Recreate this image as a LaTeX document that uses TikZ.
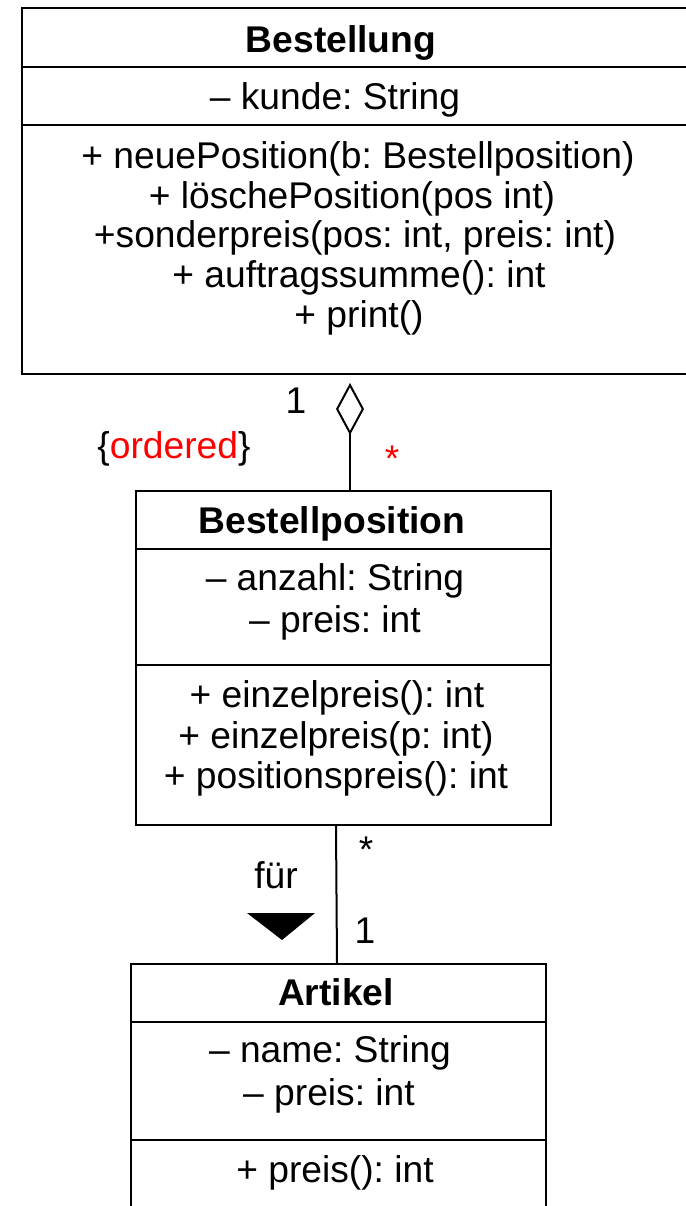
\documentclass[tikz,border=0pt]{standalone}
\usepackage{fontspec}
\setmainfont{Liberation Sans}
\usepackage{tikz}
\usetikzlibrary{arrows.meta}
\frenchspacing

\begin{document}
\begin{tikzpicture}[x=0.5pt,y=-0.5pt,
  klasse/.style={draw,line width=1pt,inner sep=0pt},
  trenner/.style={line width=1pt},
  zeile/.style={anchor=base,inner sep=0pt,font=\fontsize{18.6}{22}\selectfont},
  titel/.style={zeile,font=\fontsize{18.6}{22}\selectfont\bfseries},
  aggr/.style={line width=1pt,-{Diamond[open,length=26pt,width=14pt]}}]
\useasboundingbox (0,0) rectangle (686,1206);
\clip (0,0) rectangle (686,1206);

% Bestellung
\node[klasse,minimum width=339pt,minimum height=183pt] (bestellung) at (361,191) {};
\draw[trenner] (bestellung.west |- 0,67) -- (bestellung.east |- 0,67);
\draw[trenner] (bestellung.west |- 0,125) -- (bestellung.east |- 0,125);
\node[titel] (bestTitel) at (341,52) {Bestellung};
\node[zeile] (bestKunde) at (335,109) {– kunde: String};
\node[zeile] (bestM1) at (358,168) {+ neuePosition(b: Bestellposition)};
\node[zeile] (bestM2) at (352,208) {+ löschePosition(pos int)};
\node[zeile] (bestM3) at (355,247) {+sonderpreis(pos: int, preis: int)};
\node[zeile] (bestM4) at (359,287) {+ auftragssumme(): int};
\node[zeile] (bestM5) at (359,327) {+ print()};

% Bestellposition
\node[klasse,minimum width=207.5pt,minimum height=167pt] (bestposition) at (343.5,658) {};
\draw[trenner] (bestposition.west |- 0,549) -- (bestposition.east |- 0,549);
\draw[trenner] (bestposition.west |- 0,665) -- (bestposition.east |- 0,665);
\node[titel] (posTitel) at (332,533) {Bestellposition};
\node[zeile] (posAnzahl) at (335,590) {– anzahl: String};
\node[zeile] (posPreis) at (335,632) {– preis: int};
\node[zeile] (posM1) at (337,707) {+ einzelpreis(): int};
\node[zeile] (posM2) at (336,748) {+ einzelpreis(p: int)};
\node[zeile] (posM3) at (336,788) {+ positionspreis(): int};

% Artikel
\node[klasse,minimum width=207.5pt,minimum height=150pt] (artikel) at (338.5,1114) {};
\draw[trenner] (artikel.west |- 0,1022) -- (artikel.east |- 0,1022);
\draw[trenner] (artikel.west |- 0,1140) -- (artikel.east |- 0,1140);
\node[titel] (artTitel) at (336,1005) {Artikel};
\node[zeile] (artName) at (330,1062) {– name: String};
\node[zeile] (artPreis) at (329,1105) {– preis: int};
\node[zeile] (artM1) at (335,1182) {+ preis(): int};

% Aggregation
\coordinate (aggX) at (350,0);
\draw[aggr,shorten >=4pt] (bestposition.north -| aggX) -- (bestellung.south -| aggX);
\node[zeile] (aggEins) at (296,413) {1};
\node[zeile,red] (aggStern) at (392,471) {*};
\node[zeile] (aggOrdered) at (174,458) {\{\textcolor{red}{ordered}\}};

% Assoziation fuer
\coordinate (assOben) at (336,0);
\coordinate (assUnten) at (337,0);
\draw[trenner] (bestposition.south -| assOben) -- (artikel.north -| assUnten);
\node[zeile] (assStern) at (366,862) {*};
\node[zeile] (assEins) at (365,943) {1};
\node[zeile] (assFuer) at (276,888) {für};
\fill (247,913) -- (315,913) -- (282,940) -- cycle;
\end{tikzpicture}
\end{document}
